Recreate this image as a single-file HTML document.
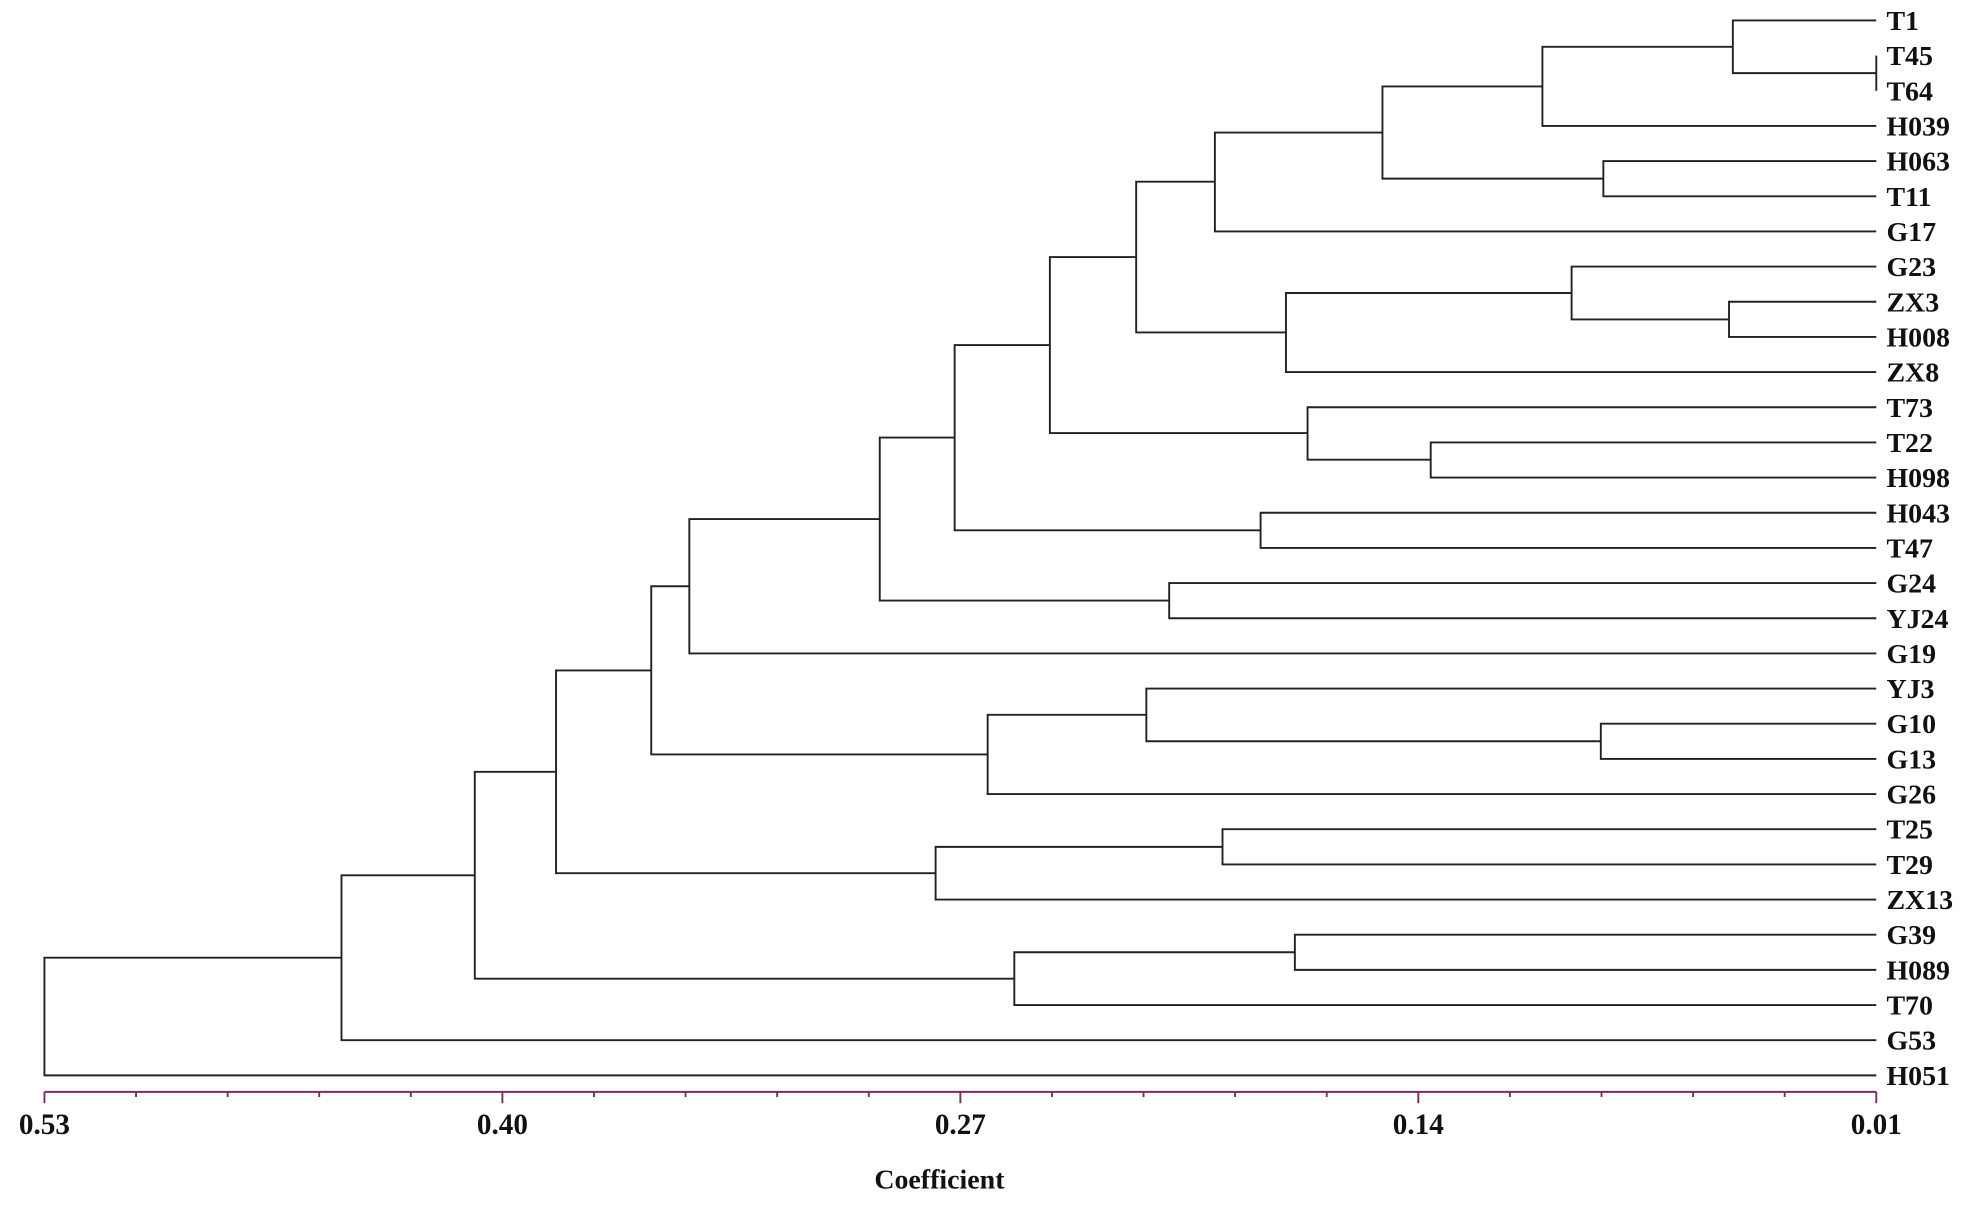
<!DOCTYPE html>
<html><head><meta charset="utf-8"><style>
html,body{margin:0;padding:0;background:#fff;}
svg{display:block;}
text{font-family:"Liberation Serif",serif;font-weight:bold;fill:#111;}
</style></head><body>
<svg width="1988" height="1205" viewBox="0 0 1566 949" xmlns="http://www.w3.org/2000/svg">
<g fill="none" stroke="#222" stroke-width="1.5">
<path d="M1478 43.7 V71.4"/>
<path d="M1478 16 H1365 V57.5 H1478"/>
<path d="M1365 36.8 H1215 V99.1 H1478"/>
<path d="M1478 126.8 H1263 V154.5 H1478"/>
<path d="M1215 68 H1089 V140.6 H1263"/>
<path d="M1089 104.3 H957 V182.2 H1478"/>
<path d="M1478 237.6 H1362 V265.3 H1478"/>
<path d="M1478 209.9 H1238 V251.5 H1362"/>
<path d="M1238 230.7 H1013 V293 H1478"/>
<path d="M957 143 H895 V261.8 H1013"/>
<path d="M1478 348.4 H1127 V376.1 H1478"/>
<path d="M1478 320.7 H1030 V362 H1127"/>
<path d="M895 202.4 H827 V341 H1030"/>
<path d="M1478 403.8 H993 V431.5 H1478"/>
<path d="M827 271.7 H752 V417.6 H993"/>
<path d="M1478 459.2 H921 V486.9 H1478"/>
<path d="M752 344.6 H693 V473 H921"/>
<path d="M693 408.8 H543 V514.6 H1478"/>
<path d="M1478 570 H1261 V597.7 H1478"/>
<path d="M1478 542.3 H903 V583.8 H1261"/>
<path d="M903 563 H778 V625.4 H1478"/>
<path d="M543 461.7 H513 V594.2 H778"/>
<path d="M1478 653.1 H963 V680.8 H1478"/>
<path d="M963 667 H737 V708.5 H1478"/>
<path d="M513 528 H438 V687.7 H737"/>
<path d="M1478 736.2 H1020 V763.9 H1478"/>
<path d="M1020 750 H799 V791.6 H1478"/>
<path d="M438 607.9 H374 V770.8 H799"/>
<path d="M374 689.4 H269 V819.3 H1478"/>
<path d="M269 754.3 H35 V847 H1478"/>
</g>
<g font-size="22">
<text x="1486" y="23.5">T1</text>
<text x="1486" y="51.2">T45</text>
<text x="1486" y="78.9">T64</text>
<text x="1486" y="106.6">H039</text>
<text x="1486" y="134.3">H063</text>
<text x="1486" y="162">T11</text>
<text x="1486" y="189.7">G17</text>
<text x="1486" y="217.4">G23</text>
<text x="1486" y="245.1">ZX3</text>
<text x="1486" y="272.8">H008</text>
<text x="1486" y="300.5">ZX8</text>
<text x="1486" y="328.2">T73</text>
<text x="1486" y="355.9">T22</text>
<text x="1486" y="383.6">H098</text>
<text x="1486" y="411.3">H043</text>
<text x="1486" y="439">T47</text>
<text x="1486" y="466.7">G24</text>
<text x="1486" y="494.4">YJ24</text>
<text x="1486" y="522.1">G19</text>
<text x="1486" y="549.8">YJ3</text>
<text x="1486" y="577.5">G10</text>
<text x="1486" y="605.2">G13</text>
<text x="1486" y="632.9">G26</text>
<text x="1486" y="660.6">T25</text>
<text x="1486" y="688.3">T29</text>
<text x="1486" y="716">ZX13</text>
<text x="1486" y="743.7">G39</text>
<text x="1486" y="771.4">H089</text>
<text x="1486" y="799.1">T70</text>
<text x="1486" y="826.8">G53</text>
<text x="1486" y="854.5">H051</text>
</g>
<g stroke="#7d2a68" stroke-width="1.5" fill="none">
<path d="M35 860 H1478"/>
<path d="M35 860V869 M107.15 860V864 M179.3 860V864 M251.45 860V864 M323.6 860V864 M395.75 860V869 M467.9 860V864 M540.05 860V864 M612.2 860V864 M684.35 860V864 M756.5 860V869 M828.65 860V864 M900.8 860V864 M972.95 860V864 M1045.1 860V864 M1117.25 860V869 M1189.4 860V864 M1261.55 860V864 M1333.7 860V864 M1405.85 860V864 M1478 860V869"/>
</g>
<g font-size="23" text-anchor="middle">
<text x="35" y="893">0.53</text>
<text x="395.75" y="893">0.40</text>
<text x="756.5" y="893">0.27</text>
<text x="1117.25" y="893">0.14</text>
<text x="1478" y="893">0.01</text>
<text x="740" y="936" font-size="22">Coefficient</text>
</g>
</svg>
</body></html>
